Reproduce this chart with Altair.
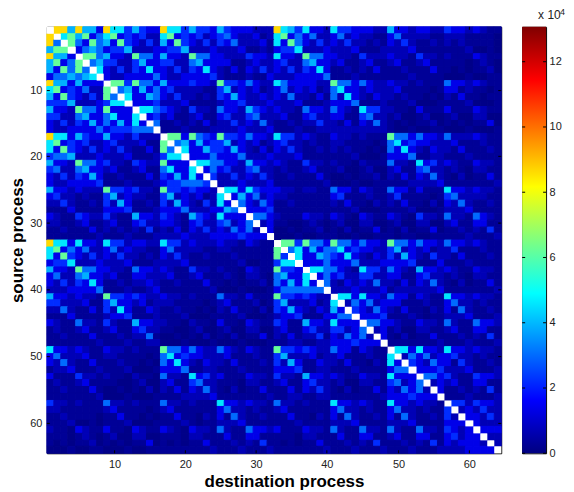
import altair as alt
import pandas as pd

# Each row is a source process, each character the colour level read for one destination
# process; '.' is a cell left blank (white diagonal).
ROWS = [
".9969663 97746433 97746443 64333222 97647332 74433322 63323322 43323211",
"9.786835 78343422 78343423 45322312 78353522 35232211 35222211 22211110",
"95.85385 63843242 63843242 43522231 73853242 32422121 32421121 21211110",
"688.3565 34462223 34462223 22231121 34472223 22231112 22231111 11120010",
"9663.885 63328553 63328553 32224332 73328553 32214222 32214221 21113211",
"68358.56 44224633 44225633 33112322 34225633 23112311 23112311 11101210",
"638585.7 32424373 32424373 21313242 32424373 11212131 11211131 10101120",
"3556567. 32233335 32233334 21112113 22233335 11121111 11121111 00010011",
"96636333 .8848553 63334332 84435322 75333322 85535322 32212111 53323211",
"78343522 8.563635 34222211 46232312 35232312 57332322 23111101 33121101",
"63843242 85.73365 32422121 43632232 32522131 52732132 21211010 21311011",
"44462223 477.3334 22231111 23342223 22231112 33351112 11120001 11120001",
"63328553 8333.775 43214221 53326432 32215332 53217442 21103111 31113211",
"44225633 57337.34 23112311 34224522 23113422 33114522 12001200 12002200",
"32424363 536373.5 11212131 22423252 11212242 21313252 10101120 10101130",
"32233335 3444555. 11121112 22232223 11121122 22222222 10010011 00010001",
"97736433 63324222 .8838543 84435332 74423211 32212111 85535332 52223211",
"78343422 34222311 8.563634 46232312 34221211 22111101 57343322 23111211",
"73843242 32421131 85.73364 43632131 32421121 21211010 53732132 21311121",
"45562223 22231112 477.3335 33352223 22231111 11120001 33351122 11121111",
"63328553 42214322 8333.775 53326332 32114221 21102111 52217342 32113221",
"45225633 23112311 57337.35 34224522 12112311 12001200 23114522 12102211",
"32424363 11211131 436373.4 22423242 11211131 00101120 21313252 10201131",
"32233334 11121112 3445554. 22232223 11111112 00010011 11122223 11111112",
"63323222 84434221 84434332 .7737433 32212211 53313211 53313111 73323221",
"34221211 46232211 46232312 7.363523 22111111 34111211 24111101 45222211",
"22421121 42631121 42632142 73.53253 11211111 21311021 21311020 32521121",
"11131111 33341112 33352223 365.3334 11111111 11120001 11120001 22231111",
"32114322 42116332 43216432 7333.553 21113221 32103211 32104221 52215321",
"22112311 23113422 33213422 45235.23 11001210 12002200 12002200 23113311",
"11211131 21212141 21313242 325352.3 00101120 10201130 10201130 11212141",
"11111112 11121112 22232223 3334333. 00010011 10010011 10110011 11121112",
"97737332 74423322 74423222 32213211 .8848553 85535332 85535332 53323211",
"78353522 35232211 35222211 22111111 8.573635 57343322 46232312 24111211",
"73843242 32422121 32421121 11211111 84.73365 43732132 42632142 21311121",
"34472223 22231112 22231111 11120011 477.3335 33352223 33341113 11121111",
"63328553 32215332 32114221 21103211 8443.775 53217442 53216332 32113221",
"35225633 23113322 23112311 12102210 56337.35 34224422 33113422 12102211",
"32424373 11212232 11211131 10101120 536373.5 21323252 21313252 10201131",
"22233335 11121123 11111112 00010001 3555555. 22232223 12222223 11111112",
"63323221 84434322 32212111 52213111 84434322 .7737332 53313211 73323221",
"44222311 46332312 22111101 23111201 46222312 7.253523 33111211 35221211",
"22521131 42731132 11211010 21311020 43632132 63.43253 21311021 31521121",
"11131111 23341112 11120001 11120001 23341113 355.3334 11121011 22231112",
"32115221 42116332 21102110 31103211 43116332 7333.553 32113221 52115332",
"12112311 23113422 11001200 12002200 23113422 44235.23 12002211 23113311",
"11211131 11212251 00101020 10201130 21312241 325352.3 10201131 11212141",
"11111112 11121122 00010001 00010001 11221122 3334333. 11111112 11121112",
"73323211 32212111 85535322 53213211 84434322 53313211 .7737332 73323221",
"35222311 22111101 57343322 23111211 46222312 23111211 7.253523 34221211",
"32521131 11211010 53732132 21311121 42631132 21311021 73.43253 31421121",
"12231112 11120001 33351122 11121111 33341122 11121111 355.3334 22231112",
"31114221 21102110 52217342 31113221 42216332 32113221 7333.553 42114332",
"12112311 11001200 23114522 11102211 23113422 12002211 45235.23 23113311",
"11211131 00101020 21313252 10201131 11313242 10201131 325352.3 11212141",
"11111112 00010001 11122223 11111112 11221122 11111112 3334333. 11121112",
"42212111 52212111 52212111 73323221 52212111 73323211 73323221 .4424332",
"22111111 23111101 23111111 35221211 23111111 35221211 35221211 4.232422",
"11211110 11311010 11311021 31521121 11311021 31521121 31521121 42.33242",
"11120010 11120001 11121011 22231111 11121111 22231111 22231111 333.3222",
"21103211 31103211 32103221 52115332 31113221 52115221 52115221 4323.333",
"11101210 12002200 11102211 13113311 11102211 13113311 23113311 34233.22",
"10101120 10101130 10101131 11212141 10101131 11212141 11212141 323332.2",
"00010011 00010011 11111112 11121112 11111112 11121112 11121112 2223333.",
]
# message count (units of 10^4) for each colour level above
LEVELS = [0.1, 0.3, 0.7, 1.35, 2.2, 3.0, 3.9, 4.6, 6.2, 8.66]
TICKS = [10, 20, 30, 40, 50, 60]
CBAR_TICKS = [0, 2, 4, 6, 8, 10, 12]
CMAX = 13.07
JET_POS = [0, 0.125, 0.375, 0.625, 0.875, 1]
JET = ["#000080", "#0000ff", "#00ffff", "#ffff00", "#ff0000", "#800000"]

records, blanks = [], []
for i, row in enumerate(ROWS, start=1):
    for j, ch in enumerate(row.replace(" ", ""), start=1):
        cell = dict(x0=j - 0.5, x1=j + 0.5, y0=i - 0.5, y1=i + 0.5)
        if ch == ".":
            blanks.append(cell)
        else:
            records.append(dict(cell, v=LEVELS[int(ch)]))
df = pd.DataFrame(records)
df_blank = pd.DataFrame(blanks)

W, H = 456, 428
FONT = "Liberation Sans"
TXT = "#222222"
xs = alt.Scale(domain=[0.5, 64.5], nice=False, zero=False, round=True)
ys = alt.Scale(domain=[0.5, 64.5], nice=False, zero=False, reverse=True, round=True)
cs = alt.Scale(domain=[p * CMAX for p in JET_POS], range=JET, interpolate="rgb", clamp=True)

xaxis = alt.Axis(
    values=TICKS, title="destination process", grid=False, domain=False, ticks=False,
    labelFont=FONT, labelFontSize=11, labelColor=TXT, labelPadding=5,
    titleFont=FONT, titleFontSize=17, titleFontWeight="bold", titleColor="black",
    titlePadding=4, titleX=238)
yaxis = alt.Axis(
    values=TICKS, title="source process", grid=False, domain=False, ticks=False,
    labelFont=FONT, labelFontSize=11, labelColor=TXT, labelPadding=5,
    titleFont=FONT, titleFontSize=17, titleFontWeight="bold", titleColor="black",
    titlePadding=3)

cells = alt.Chart(df).mark_rect(strokeWidth=1).encode(
    x=alt.X("x0:Q", scale=xs, axis=xaxis),
    x2="x1:Q",
    y=alt.Y("y0:Q", scale=ys, axis=yaxis),
    y2="y1:Q",
    color=alt.Color("v:Q", scale=cs, legend=None),
    stroke=alt.Stroke("v:Q", scale=cs, legend=None),
)
diag = alt.Chart(df_blank).mark_rect(color="white").encode(
    x=alt.X("x0:Q", scale=xs, axis=xaxis),
    x2="x1:Q",
    y=alt.Y("y0:Q", scale=ys, axis=yaxis),
    y2="y1:Q",
)

tdf = pd.DataFrame({"t": TICKS})
tick_left = alt.Chart(tdf).mark_rule(color="black").encode(y=alt.Y("t:Q", scale=ys, axis=yaxis), x=alt.value(0), x2=alt.value(3))
tick_right = alt.Chart(tdf).mark_rule(color="black").encode(y=alt.Y("t:Q", scale=ys, axis=yaxis), x=alt.value(W), x2=alt.value(W - 3))
tick_bottom = alt.Chart(tdf).mark_rule(color="black").encode(x=alt.X("t:Q", scale=xs, axis=xaxis), y=alt.value(H), y2=alt.value(H - 3))
tick_top = alt.Chart(tdf).mark_rule(color="black").encode(x=alt.X("t:Q", scale=xs, axis=xaxis), y=alt.value(0), y2=alt.value(3))

main = alt.layer(cells, diag, tick_left, tick_right, tick_bottom, tick_top).properties(width=W, height=H)

cbs = alt.Scale(domain=[0, CMAX], nice=False, zero=False)
caxis = alt.Axis(
    orient="right", values=CBAR_TICKS, title=None, grid=False, domain=False, ticks=False,
    labelFont=FONT, labelFontSize=11, labelColor=TXT, labelPadding=3)
BW = 24
grad = alt.Gradient(
    gradient="linear", x1=0, x2=0, y1=1, y2=0,
    stops=[alt.GradientStop(offset=p, color=c) for p, c in zip(JET_POS, JET)],
)
bar = alt.Chart(pd.DataFrame({"lo": [0.0], "hi": [CMAX]})).mark_rect(color=grad).encode(
    y=alt.Y("lo:Q", scale=cbs, axis=caxis),
    y2="hi:Q",
    x=alt.value(0), x2=alt.value(BW),
)
cdf = pd.DataFrame({"t": CBAR_TICKS})
cb_l = alt.Chart(cdf).mark_rule(color="black").encode(y=alt.Y("t:Q", scale=cbs, axis=caxis), x=alt.value(0), x2=alt.value(3))
cb_r = alt.Chart(cdf).mark_rule(color="black").encode(y=alt.Y("t:Q", scale=cbs, axis=caxis), x=alt.value(BW), x2=alt.value(BW - 3))
exp_base = alt.Chart(pd.DataFrame({"s": ["x 10"]})).mark_text(
    font=FONT, fontSize=12, color=TXT, align="left", baseline="middle").encode(
    text="s:N", x=alt.value(16), y=alt.value(-12))
exp_pow = alt.Chart(pd.DataFrame({"s": ["4"]})).mark_text(
    font=FONT, fontSize=9, color=TXT, align="left", baseline="middle").encode(
    text="s:N", x=alt.value(38), y=alt.value(-15))
cbar = alt.layer(bar, cb_l, cb_r, exp_base, exp_pow).properties(width=BW, height=H)

chart = alt.hconcat(main, cbar, spacing=19).resolve_scale(x="independent", y="independent", color="independent").properties(
    padding={"left": 0, "right": 0, "top": -2, "bottom": 0}, background="white"
).configure_view(stroke="black", strokeWidth=1)

chart.save("out.html", embed_options={"renderer": "svg", "actions": False})
